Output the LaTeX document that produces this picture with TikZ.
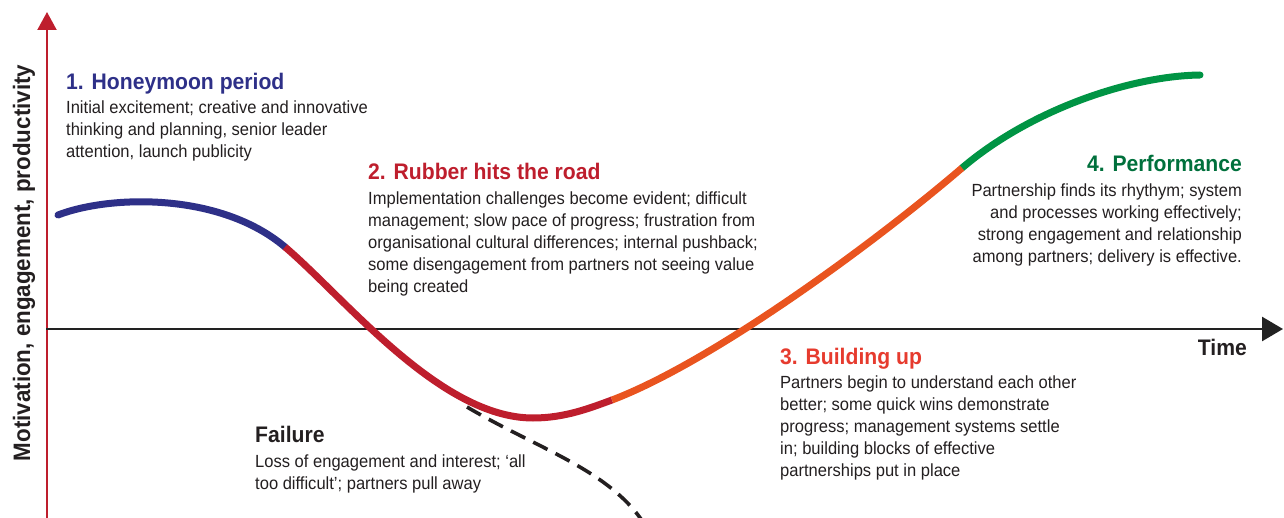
\documentclass[tikz,border=0pt]{standalone}
\usepackage{fontspec}
\setmainfont{Liberation Sans}[FakeStretch=0.94]
\usetikzlibrary{arrows.meta}
\definecolor{cblue}{HTML}{2E3088}
\definecolor{cred}{HTML}{BE1E2D}
\definecolor{corange}{HTML}{E9541F}
\definecolor{cgreen}{HTML}{009444}
\definecolor{hgreen}{HTML}{00703C}
\definecolor{hred3}{HTML}{E63B2E}
\definecolor{txt}{HTML}{231F20}
\definecolor{axisk}{HTML}{222222}
\begin{document}
\begin{tikzpicture}[x=1pt,y=-1pt,
  body/.style={font=\fontsize{17.6}{22}\selectfont, text=txt, inner sep=0pt},
  head/.style={font=\bfseries\fontsize{22.5}{26}\selectfont, inner sep=0pt},
  curve/.style={line width=7pt, line cap=butt},
  ]
\useasboundingbox (0,0) rectangle (1284,518);
\clip (0,0) rectangle (1284,518);
% axes
\coordinate (ybot) at (47,520);
\coordinate (ytop) at (47,12);
\coordinate (O) at (46,329);
\coordinate (xend) at (1283,329);
\draw[cred, line width=2.2pt, -{Triangle[length=18pt,width=19pt]}] (ybot) -- (ytop);
\draw[axisk, line width=2.6pt, -{Triangle[length=21pt,width=24pt]}] (O) -- (xend);
% curve points
\coordinate (p0) at (58,215);
\coordinate (p1) at (285,247);
\coordinate (pmin) at (533,418);
\coordinate (p2) at (612,400);
\coordinate (p3) at (962,168);
\coordinate (p4) at (1200,75);
\coordinate (f0) at (467,407);
\coordinate (f1) at (645,525);
% failure branch
\draw[txt, line width=3.6pt, dash pattern=on 16pt off 9pt] (f0) .. controls (540,450) and (610,470) .. (f1);
% curve segments
\draw[curve, cgreen, line cap=round] (p3) .. controls (1030,110) and (1130,76) .. (p4);
\draw[curve, cblue, line cap=round] (p0) .. controls (110,195) and (220,192) .. (p1);
\draw[curve, cred] (p1) .. controls (345,298) and (440,418) .. (pmin)
   .. controls (565,418) and (590,408) .. (p2);
\draw[curve, corange] (p2) .. controls (712,362) and (872,245) .. (p3);
% labels
\node[head, text=txt, rotate=90, font=\bfseries\fontsize{23.8}{26}\selectfont] (ylab) at (24,263) {Motivation, engagement, productivity};
\node[head, text=txt, anchor=base east] (time) at (1247,355) {Time};

\node[head, text=cblue, anchor=base west] (h1) at (66,90) {1. Honeymoon period};
\node[body, anchor=base west, align=left] (b1) at (66,158) {Initial excitement; creative and innovative\\thinking and planning, senior leader\\attention, launch publicity};

\node[head, text=cred, anchor=base west] (h2) at (368,180) {2. Rubber hits the road};
\node[body, anchor=base west, align=left] (b2) at (368,293) {Implementation challenges become evident; difficult\\management; slow pace of progress; frustration from\\organisational cultural differences; internal pushback;\\some disengagement from partners not seeing value\\being created};

\node[head, text=hred3, anchor=base west] (h3) at (780,364) {3. Building up};
\node[body, anchor=base west, align=left] (b3) at (780,476) {Partners begin to understand each other\\better; some quick wins demonstrate\\progress; management systems settle\\in; building blocks of effective\\partnerships put in place};

\node[head, text=hgreen, anchor=base east] (h4) at (1242,172) {4. Performance};
\node[body, anchor=base east, align=right] (b4) at (1242,263) {Partnership finds its rhythym; system\\and processes working effectively;\\strong engagement and relationship\\among partners; delivery is effective.};

\node[head, text=txt, anchor=base west] (h5) at (255,442) {Failure};
\node[body, anchor=base west, align=left] (b5) at (255,489) {Loss of engagement and interest; ‘all\\too difficult’; partners pull away};
\end{tikzpicture}
\end{document}
